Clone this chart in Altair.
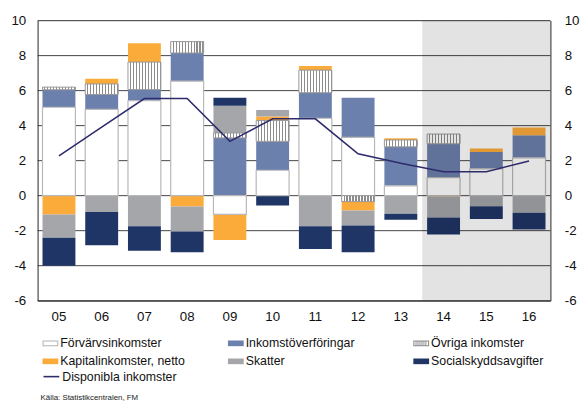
import altair as alt
import pandas as pd

years = ['05', '06', '07', '08', '09', '10', '11', '12', '13', '14', '15', '16']
forecast_years = ['14', '15', '16']

cats = ['Förvärvsinkomster', 'Inkomstöverföringar', 'Övriga inkomster',
        'Kapitalinkomster, netto', 'Skatter', 'Socialskyddsavgifter']
cat_colors = {'Förvärvsinkomster': '#b4b4b4', 'Inkomstöverföringar': '#6c80ae',
              'Övriga inkomster': '#8c8c8c', 'Kapitalinkomster, netto': '#fbab3a',
              'Skatter': '#a5a6aa', 'Socialskyddsavgifter': '#1f3566'}
# legend is filled column by column: 2 rows x 3 columns
legend_order = ['Förvärvsinkomster', 'Kapitalinkomster, netto',
                'Inkomstöverföringar', 'Skatter',
                'Övriga inkomster', 'Socialskyddsavgifter']

forv    = [5.05, 4.93, 5.42, 6.54, -1.07, 1.45, 4.42, 3.33, 0.56, 1.03, 1.53, 2.16]
inkomst = [1.00, 0.85, 0.64, 1.61, 3.30, 1.65, 1.46, 2.26, 2.23, 1.93, 0.97, 1.29]
ovriga  = [0.15, 0.60, 1.57, 0.65, 0.28, 1.19, 1.29, -0.34, 0.39, 0.56, 0.0, 0.0]
kapital = [-1.07, 0.30, 1.07, -0.62, -1.47, 0.23, 0.23, -0.51, 0.10, -0.05, 0.19, 0.45]
skatter = [-1.33, -0.94, -1.75, -1.43, 1.56, 0.38, -1.75, -0.86, -1.04, -1.20, -0.60, -0.98]
social  = [-1.60, -1.90, -1.40, -1.19, 0.45, -0.56, -1.30, -1.53, -0.33, -0.97, -0.74, -0.96]
disp    = [2.27, 3.92, 5.55, 5.55, 3.10, 4.39, 4.39, 2.39, 1.85, 1.37, 1.37, 1.98]

line_name = 'Disponibla inkomster'
y_ticks = [-6, -4, -2, 0, 2, 4, 6, 8, 10]
source = 'Källa: Statistikcentralen, FM'

series = [forv, inkomst, ovriga, kapital, skatter, social]
rows = []
for ci, (c, vals) in enumerate(zip(cats, series)):
    for y, v in zip(years, vals):
        if v != 0:
            rows.append({'year': y, 'cat': c, 'order': ci, 'value': v})
df = pd.DataFrame(rows)
df_line = pd.DataFrame({'year': years, 'disp': disp, 'series': line_name})
df_grid = pd.DataFrame({'g': y_ticks})
df_fc = pd.DataFrame({'year': forecast_years})

W, H = 520, 284
FONT = 'Liberation Sans'

# legend symbol shapes (unit box -1..1)
RECT = 'M-1,-0.36H1V0.36H-1Z'
RING = RECT + 'M-0.87,-0.23V0.23H0.87V-0.23Z'
STRIPED = RING + ''.join(
    'M{:.3f},-0.23H{:.3f}V0.23H{:.3f}Z'.format(x, x + 0.12, x)
    for x in [-0.72, -0.47, -0.22, 0.03, 0.28, 0.53]
)
shape_for = {'Förvärvsinkomster': RING, 'Övriga inkomster': STRIPED}


def stripes(n, frac=0.62, bg='#ffffff', fg='#8c8c8c'):
    out = []
    for i in range(n):
        a = i / n
        b = (i + frac) / n
        c = (i + 1) / n
        out += [alt.GradientStop(offset=a, color=bg), alt.GradientStop(offset=b, color=bg),
                alt.GradientStop(offset=b, color=fg), alt.GradientStop(offset=c, color=fg)]
    return alt.LinearGradient(gradient='linear', stops=out, x1=0, x2=1, y1=0, y2=0)


xscale = alt.Scale(domain=years, paddingInner=0, paddingOuter=0)
yscale = alt.Scale(domain=[-6, 10], nice=False, zero=False)
cscale = alt.Scale(domain=legend_order, range=[cat_colors[c] for c in legend_order])
sscale = alt.Scale(domain=legend_order, range=[shape_for.get(c, RECT) for c in legend_order])

x_axis = alt.Axis(title=None, ticks=False, labelPadding=9, labelFontSize=13.5,
                  labelColor='#111', domainColor='#333', labelAngle=0, zindex=1)
X = alt.X('year:N', scale=xscale, axis=x_axis)

left_axis = alt.Axis(title=None, values=y_ticks, grid=False, ticks=False,
                     labelPadding=12, labelFontSize=13.5, labelColor='#111',
                     domainColor='#333', zindex=1, labelExpr="'' + datum.value")
right_axis = alt.Axis(title=None, values=y_ticks, grid=False, ticks=False,
                      labelPadding=14, labelFontSize=13.5, labelColor='#111',
                      domainColor='#333', orient='right', zindex=1,
                      labelExpr="'' + datum.value")

leg = alt.Legend(title=None, orient='none', legendX=5, legendY=319,
                 columns=3, columnPadding=43, gridAlign='all',
                 symbolSize=256, symbolStrokeWidth=0, symbolOpacity=1,
                 labelFontSize=12.5, labelOffset=2, rowPadding=3.5,
                 labelColor='#111', labelFont=FONT)

grid = alt.Chart(df_grid).mark_rule(color='#444', strokeWidth=1).encode(
    y=alt.Y('g:Q', scale=yscale, axis=left_axis)
)

base = alt.Chart(df).transform_stack(
    stack='value', as_=['v0', 'v1'], groupby=['year'],
    sort=[alt.SortField('order', order='ascending')]
)

bars = base.mark_bar(width={'band': 0.77}).encode(
    x=X,
    y=alt.Y('v0:Q', scale=yscale, axis=None),
    y2='v1:Q',
    color=alt.Color('cat:N', scale=cscale, legend=leg),
    order=alt.Order('order:Q')
)

white = base.transform_filter(alt.datum.cat == 'Förvärvsinkomster').mark_bar(
    width={'band': 0.77}, fill='#ffffff', stroke='#b8b8b8', strokeWidth=1.2
).encode(
    x=X,
    y=alt.Y('v0:Q', scale=yscale, axis=None),
    y2='v1:Q'
)

hatch = base.transform_filter(alt.datum.cat == 'Övriga inkomster').mark_bar(
    width={'band': 0.77}, fill=stripes(11), stroke='#999999', strokeWidth=1
).encode(
    x=X,
    y=alt.Y('v0:Q', scale=yscale, axis=None),
    y2='v1:Q'
)

keys = alt.Chart(df).mark_point(filled=True, size=0, opacity=0).encode(
    x=X,
    y=alt.Y('value:Q', scale=yscale, axis=None),
    color=alt.Color('cat:N', scale=cscale, legend=leg),
    shape=alt.Shape('cat:N', scale=sscale, legend=leg)
)

overlay = alt.Chart(df_fc).mark_rect(color='#000000', opacity=0.11).encode(
    x=X,
    y=alt.Y(datum=10, scale=yscale, axis=None),
    y2=alt.Y2(datum=-6)
)

line = alt.Chart(df_line).mark_line(strokeWidth=1.6).encode(
    x=X,
    y=alt.Y('disp:Q', scale=yscale, axis=right_axis),
    stroke=alt.Stroke('series:N', scale=alt.Scale(domain=[line_name], range=['#2d2b6b']),
                      legend=alt.Legend(title=None, orient='none', legendX=5, legendY=352,
                                        symbolType='stroke', symbolSize=256,
                                        symbolStrokeWidth=1.6, labelFontSize=12.5,
                                        labelOffset=2, labelColor='#111', labelFont=FONT))
)

src = alt.Chart(df_grid).transform_filter(alt.datum.g == 0).mark_text(
    align='left', baseline='middle', fontSize=8, font=FONT, color='#222'
).encode(x=alt.value(3), y=alt.value(383), text=alt.value(source))

chart = alt.layer(grid, bars, white, hatch, keys, overlay, line, src).resolve_scale(
    y='shared'
).resolve_axis(y='independent').properties(
    width=W, height=H,
    autosize=alt.AutoSizeParams(type='none'),
    padding={'left': 30, 'top': 10, 'right': 30, 'bottom': 103}
).configure_view(stroke=None).configure(font=FONT)

chart.save('out.html', embed_options={'renderer': 'svg', 'actions': False})
